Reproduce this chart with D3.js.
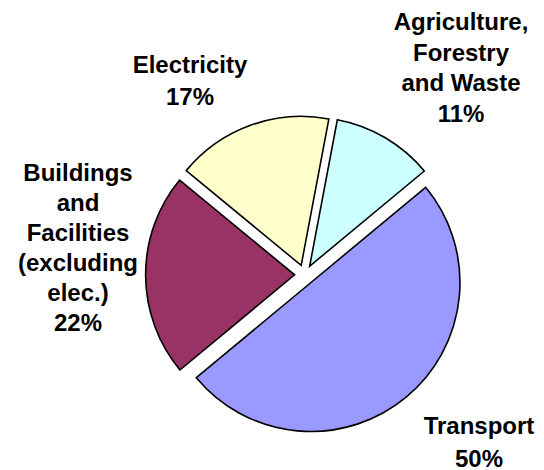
<!DOCTYPE html>
<html>
<head>
<meta charset="utf-8">
<script src="https://cdn.jsdelivr.net/npm/d3@7"></script>
<style>
  html, body { margin: 0; padding: 0; background: #fff; }
  svg { display: block; }
  .lbl { font-family: "Liberation Sans", Arial, sans-serif; font-weight: bold; font-size: 24px; fill: #000; }
</style>
</head>
<body>
<svg id="chart" width="544" height="470"></svg>
<script>
// Emissions share by sector (percent)
const categories = ["Agriculture, Forestry and Waste", "Transport", "Buildings and Facilities (excluding elec.)", "Electricity"];
const shares = [11, 50, 22, 17];
const labelLines = [
  ["Agriculture,", "Forestry", "and Waste"],
  ["Transport"],
  ["Buildings", "and", "Facilities", "(excluding", "elec.)"],
  ["Electricity"]
];
const colors = ["#CCFFFF", "#9999FF", "#993366", "#FFFFCC"];

const W = 544, H = 470;
const cx = 304.6, cy = 274.8;   // pie centre
const radius = 149;
const explode = 10;

// Label block anchors (x centre, first baseline, line step)
const labelAnchor = [
  { x: 461, y: 30, step: 30.5 },
  { x: 479, y: 434, step: 32.5 },
  { x: 78, y: 181, step: 30 },
  { x: 190, y: 73, step: 31.5 }
];

const svg = d3.select("#chart");
const g = svg.append("g").attr("transform", `translate(${cx},${cy})`);

const startDeg = 10.7;
const pie = d3.pie()
  .sort(null)
  .value(d => d)
  .startAngle(startDeg * Math.PI / 180)
  .endAngle((startDeg + 360) * Math.PI / 180);

const arc = d3.arc().innerRadius(0).outerRadius(radius);
const arcs = pie(shares);

g.selectAll("path.slice")
  .data(arcs)
  .join("path")
  .attr("class", "slice")
  .attr("d", arc)
  .attr("fill", (d, i) => colors[i])
  .attr("stroke", "#000")
  .attr("stroke-width", 1.6)
  .attr("stroke-linejoin", "miter")
  .attr("transform", d => {
    const mid = (d.startAngle + d.endAngle) / 2;
    return `translate(${Math.sin(mid) * explode},${-Math.cos(mid) * explode})`;
  });

// Category labels with percentage on the last line
arcs.forEach((d, i) => {
  const lines = labelLines[i].concat([shares[i] + "%"]);
  const a = labelAnchor[i];
  const t = svg.append("text")
    .attr("class", "lbl")
    .attr("text-anchor", "middle");
  lines.forEach((ln, k) => {
    t.append("tspan")
      .attr("x", a.x)
      .attr("y", a.y + k * a.step)
      .text(ln);
  });
});
</script>
</body>
</html>
